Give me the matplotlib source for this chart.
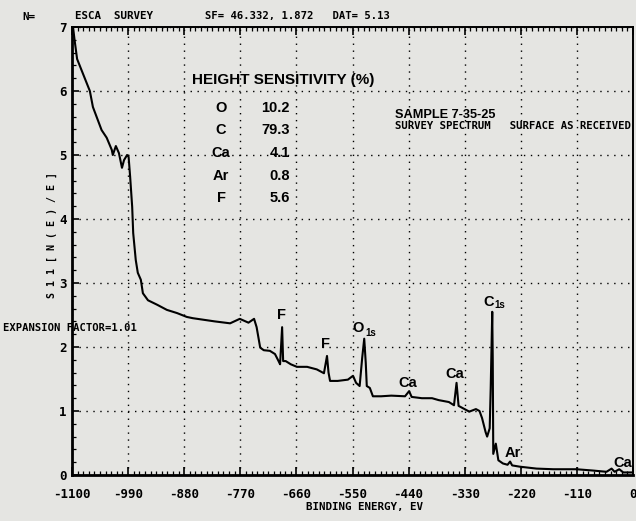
import matplotlib
matplotlib.use("Agg")
import matplotlib.pyplot as plt
from matplotlib.ticker import MultipleLocator, FixedLocator

# ---- data ----
energy = [-1098, -1095, -1090, -1071, -1065, -1059, -1042, -1032, -1022, -1020, -1014,
          -1008, -1002, -998, -992, -989, -986, -982, -980, -975, -971, -965, -961, -951,
          -933, -914, -894, -875, -863, -820, -790, -771, -754, -743, -738, -731, -724,
          -712, -702, -695, -692, -688, -686, -681, -671, -659, -639, -620, -606, -600,
          -597, -594, -579, -559, -549, -543, -536, -531, -527, -524, -522, -516, -510,
          -494, -474, -447, -439, -434, -414, -394, -381, -361, -351, -346, -342, -335,
          -321, -308, -301, -296, -289, -286, -281, -279, -276, -275, -274, -269, -264,
          -255, -246, -241, -237, -222, -189, -156, -111, -79, -52, -42, -36, -27, -19, -5, 0]
signal = [7.0, 6.8, 6.5, 6.12, 6.0, 5.75, 5.39, 5.27, 5.08, 5.0, 5.14,
          5.03, 4.8, 4.92, 5.0, 4.97, 4.66, 4.19, 3.78, 3.36, 3.16, 3.05, 2.84, 2.73,
          2.66, 2.58, 2.53, 2.47, 2.45, 2.40, 2.37, 2.44, 2.38, 2.44, 2.31, 1.99, 1.95,
          1.94, 1.89, 1.78, 1.73, 2.31, 1.78, 1.78, 1.73, 1.69, 1.69, 1.65, 1.59, 1.86,
          1.60, 1.47, 1.47, 1.49, 1.55, 1.44, 1.39, 1.83, 2.13, 1.75, 1.39, 1.36, 1.23,
          1.23, 1.24, 1.23, 1.31, 1.22, 1.20, 1.20, 1.17, 1.14, 1.09, 1.44, 1.08, 1.05,
          0.99, 1.03, 1.00, 0.89, 0.67, 0.60, 0.73, 1.36, 2.55, 1.80, 0.33, 0.49, 0.23,
          0.18, 0.16, 0.21, 0.15, 0.13, 0.10, 0.09, 0.09, 0.07, 0.05, 0.10, 0.05, 0.09, 0.04, 0.04, 0.04]

xticks = [-1100, -990, -880, -770, -660, -550, -440, -330, -220, -110, 0]
xticklabels = ["-1100", "-990", "-880", "-770", "-660", "-550", "-440", "-330", "-220", "-110", "0"]
yticks = [0, 1, 2, 3, 4, 5, 6, 7]

elements = ["O", "C", "Ca", "Ar", "F"]
sensitivity = ["10.2", "79.3", "4.1", "0.8", "5.6"]

peak_labels = ["F", "F", "O", "Ca", "Ca", "C", "Ar", "Ca"]
peak_x = [-690, -603, -539, -441, -350, -283, -235, -21]
peak_y = [2.50, 2.05, 2.29, 1.44, 1.58, 2.70, 0.35, 0.19]
sub_labels = ["1s", "1s"]
sub_x = [-515, -261]
sub_y = [2.22, 2.65]

# ---- figure ----
W, H = 636, 521
bg = "#e5e5e2"
plot_font = ["DejaVu Sans Mono"]
bold_font = ["Liberation Sans", "DejaVu Sans"]

fig = plt.figure(figsize=(W / 100, H / 100), dpi=100, facecolor=bg)
ax = fig.add_axes([72 / W, 1 - 475 / H, (633 - 72) / W, (475 - 27) / H])
ax.set_facecolor(bg)

ax.plot(energy, signal, color="black", lw=1.5, solid_joinstyle="round")

ax.set_xlim(-1100, 0)
ax.set_ylim(0, 7)
ax.xaxis.set_major_locator(FixedLocator(xticks))
ax.xaxis.set_minor_locator(MultipleLocator(11))
ax.yaxis.set_major_locator(FixedLocator(yticks))
ax.yaxis.set_minor_locator(MultipleLocator(0.2))
ax.set_xticklabels(xticklabels, family=plot_font, fontsize=9, fontweight="bold")
ax.set_yticklabels([str(v) for v in yticks], family=plot_font, fontsize=9, fontweight="bold")

ax.tick_params(axis="both", which="both", direction="in", color="black")
ax.tick_params(axis="x", which="major", length=6, width=1.2, top=True, pad=9)
ax.tick_params(axis="x", which="minor", length=3, width=0.9, top=True)
ax.tick_params(axis="y", which="major", length=5, width=1.2, right=False, pad=4)
ax.tick_params(axis="y", which="minor", length=3, width=0.9)

for s in ["left", "bottom"]:
    ax.spines[s].set_linewidth(2.0)
ax.spines["top"].set_linewidth(1.4)
ax.spines["right"].set_linewidth(1.4)

ax.grid(True, which="major", linestyle=(0, (1, 4)), color="black", lw=1.0)

# peak labels
for lab, px, py in zip(peak_labels, peak_x, peak_y):
    ax.text(px, py, lab, family=bold_font, fontweight="bold", fontsize=10.5,
            ha="center", va="center")
for lab, px, py in zip(sub_labels, sub_x, sub_y):
    ax.text(px, py, lab, family=bold_font, fontweight="bold", fontsize=7,
            ha="center", va="center")

def P(px, py):
    return px / W, 1 - py / H

# header texts
fig.text(*P(22, 17), "N=", family=plot_font, fontsize=7.8, fontweight="bold", va="center")
fig.text(*P(75, 16), "ESCA  SURVEY", family=plot_font, fontsize=7.8, fontweight="bold", va="center")
fig.text(*P(205, 16), "SF= 46.332, 1.872   DAT= 5.13", family=plot_font, fontsize=7.6,
         fontweight="bold", va="center")

# y label
fig.text(*P(52, 235), "S 1 1 [ N ( E ) / E ]", family=plot_font, fontsize=7.2, fontweight="bold",
         rotation=90, ha="center", va="center")
# x label
fig.text(*P(365, 507), "BINDING ENERGY, EV", family=plot_font, fontsize=7.8,
         fontweight="bold", ha="center", va="center")

# expansion factor
fig.text(*P(3, 328), "EXPANSION FACTOR=1.01", family=plot_font, fontsize=7.6,
         fontweight="bold", va="center")

# height sensitivity table
fig.text(*P(192, 80), "HEIGHT SENSITIVITY (%)", family=bold_font, fontsize=11,
         fontweight="bold", va="center")
rows_y = [108, 130, 153, 176, 198]
for el, val, ry in zip(elements, sensitivity, rows_y):
    fig.text(*P(221, ry), el, family=bold_font, fontsize=10.5, fontweight="bold",
             ha="center", va="center")
    fig.text(*P(290, ry), val, family=bold_font, fontsize=10.5, fontweight="bold",
             ha="right", va="center")

# sample info
fig.text(*P(395, 115), "SAMPLE 7-35-25", family=bold_font, fontsize=9.2,
         fontweight="bold", va="center")
fig.text(*P(395, 126), "SURVEY SPECTRUM   SURFACE AS RECEIVED", family=plot_font,
         fontsize=7.7, fontweight="bold", va="center")

fig.savefig("out.png", dpi=100, facecolor=bg)
